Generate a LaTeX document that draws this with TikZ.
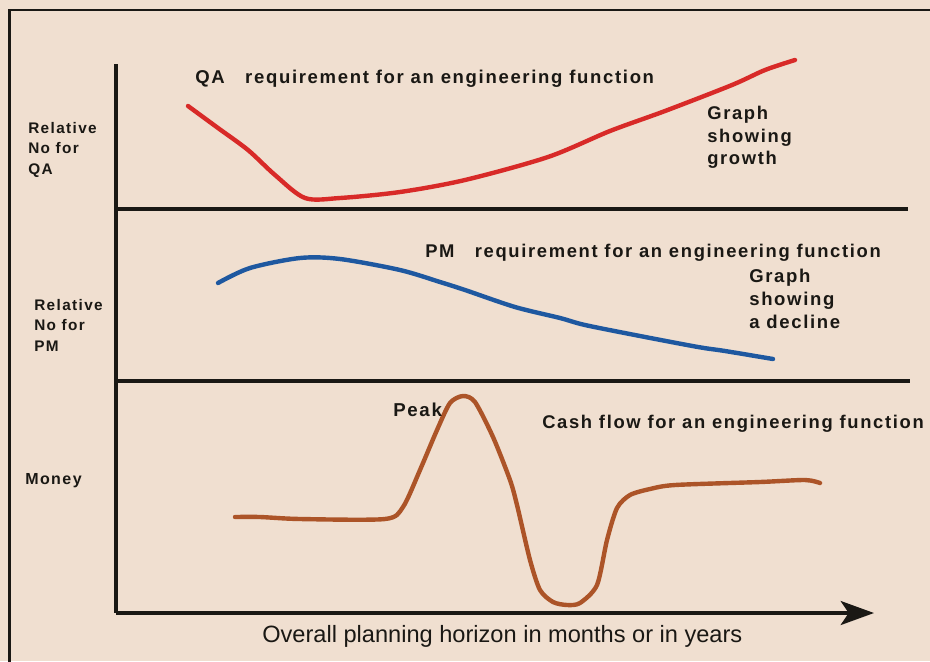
\documentclass[tikz,border=0pt]{standalone}
\usepackage{fontspec}
\setmainfont{Liberation Sans}
\newfontfamily\lblfont[LetterSpace=9]{Liberation Sans}
\usetikzlibrary{arrows.meta}

\definecolor{paper}{RGB}{240,223,208}
\definecolor{qared}{RGB}{216,42,40}
\definecolor{pmblue}{RGB}{30,88,160}
\definecolor{cashbrown}{RGB}{172,84,40}
\definecolor{ink}{RGB}{26,24,20}

\begin{document}
\begin{tikzpicture}[x=0.75pt,y=-0.75pt,
  lbl/.style={font=\lblfont\bfseries, text=ink, inner sep=0pt, anchor=north west, align=left},
  frameline/.style={draw=ink, line width=1.9pt},
  axis/.style={draw=ink, line width=2.4pt},
  curve/.style={line width=3.3pt, line cap=round, line join=round}]

  \fill[paper] (0,0) rectangle (930,661);
  \useasboundingbox (0,0) rectangle (930,661);

  % outer frame (only top and left show)
  \draw[frameline] (931,10) -- (9.5,10) -- (9.5,662);

  % axes and panel separators
  \coordinate (ytop) at (116,64);
  \coordinate (origin) at (116,613);
  \coordinate (xend) at (874,613);
  \coordinate (qaleft) at (116,209);
  \coordinate (qaright) at (908,209);
  \coordinate (pmleft) at (116,381);
  \coordinate (pmright) at (910,381);
  \draw[axis] (ytop) -- (origin);
  \draw[axis, -{Stealth[length=25pt, width=18pt, inset=6pt]}] (origin) -- (xend);
  \draw[axis] (qaleft) -- (qaright);
  \draw[axis] (pmleft) -- (pmright);

  % QA panel
  \draw[curve, qared] plot[smooth, tension=0.5] coordinates {(188,106) (218,128) (248,150) (275,175)
    (305,198) (340,198) (400,192) (465,180) (548,157) (610,131) (665,111) (732,85) (765,70) (795,60)};
  \node[lbl, font=\lblfont\bfseries\fontsize{11.5}{15.3}\selectfont] (qaaxis) at (28,122) {Relative\\No for\\QA};
  \node[lbl, font=\lblfont\bfseries\fontsize{13.9}{15}\selectfont] (qatitle) at (195,70) {QA\ \ \ requirement for an engineering function};
  \node[lbl, font=\lblfont\bfseries\fontsize{13.8}{16.9}\selectfont] (qanote) at (707,106) {Graph\\showing\\growth};

  % PM panel
  \draw[curve, pmblue] plot[smooth, tension=0.5] coordinates {(218,283) (250,268) (300,258) (340,259)
    (400,270) (440,282) (465,290) (515,307) (560,318) (585,325) (640,336) (698,347) (725,351) (773,359)};
  \node[lbl, font=\lblfont\bfseries\fontsize{11.5}{15.3}\selectfont] (pmaxis) at (34,299) {Relative\\No for\\PM};
  \node[lbl, font=\lblfont\bfseries\fontsize{13.8}{15}\selectfont] (pmtitle) at (425,244) {PM\ \ \ requirement for an engineering function};
  \node[lbl, font=\lblfont\bfseries\fontsize{13.9}{17.2}\selectfont] (pmnote) at (749,269) {Graph\\showing\\a decline};

  % cash flow panel
  \draw[curve, cashbrown] plot[smooth, tension=0.45] coordinates {(235,517) (260,517) (300,519) (385,519)
    (403,507) (420,470) (437,430) (450,403) (463,396) (475,402) (493,437) (510,480) (517,505) (530,560)
    (540,590) (553,602) (567,605) (580,603) (597,585) (607,540) (617,508) (630,495) (650,489) (675,485)
    (760,482) (805,480) (820,483)};
  \node[lbl, font=\lblfont\bfseries\fontsize{12}{15}\selectfont] (money) at (25,473) {Money};
  \node[lbl, font=\lblfont\bfseries\fontsize{14}{15}\selectfont] (peak) at (393,403) {Peak};
  \node[lbl, font=\lblfont\bfseries\fontsize{13.8}{15}\selectfont] (cashtitle) at (542,415) {Cash flow for an engineering function};

  % time axis label
  \node[inner sep=0pt, anchor=north west, text=ink, font=\fontsize{17.7}{20}\selectfont] (horizon) at (262,625)
    {Overall planning horizon in months or in years};
\end{tikzpicture}
\end{document}
